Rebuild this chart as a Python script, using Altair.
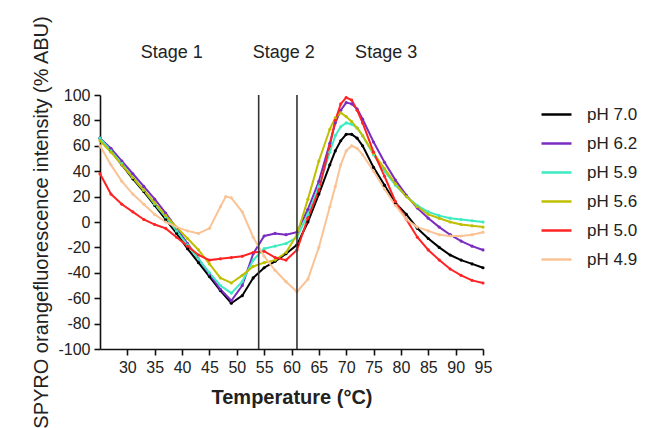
import altair as alt
import pandas as pd

# Temperature grid (°C) for the melt curves
temps = [25, 27, 29, 31, 33, 35, 37, 39, 41, 43, 45, 47, 49, 51, 53, 55, 57, 59,
         61, 63, 65, 67, 68, 69, 70, 71, 72, 73, 75, 77, 79, 81, 83, 85, 87, 89,
         91, 93, 95]
temps_49 = [25, 27, 29, 31, 33, 35, 37, 39, 41, 43, 45, 47, 48, 49, 51, 53, 55,
            57, 59, 61, 63, 65, 67, 68, 69, 70, 71, 72, 73, 75, 77, 79, 81, 83,
            85, 87, 89, 91, 93, 95]

ph_70 = [66, 56, 45, 34, 24, 13, 2, -9, -21, -32, -43, -54, -64, -58, -44, -36,
         -31, -25, -18, 0, 22, 45, 56, 64, 69, 69, 66, 60, 43, 29, 15, 6, -5,
         -13, -20, -26, -30, -33, -36]
ph_62 = [66, 58, 48, 38, 28, 18, 7, -5, -17, -29, -41, -53, -62, -50, -25, -11,
         -9, -10, -8, 10, 32, 62, 78, 88, 94, 93, 89, 81, 63, 47, 33, 21, 11, 3,
         -4, -10, -15, -19, -22]
ph_59 = [66, 56, 46, 35, 25, 14, 4, -7, -18, -29, -40, -50, -56, -47, -30, -21,
         -19, -17, -12, 6, 28, 55, 68, 75, 78, 77, 74, 68, 53, 40, 29, 20, 13, 8,
         5, 3, 2, 1, 0]
ph_56 = [64, 55, 45, 35, 25, 15, 5, -4, -13, -22, -33, -44, -48, -42, -35, -32,
         -30, -24, -10, 18, 48, 73, 82, 86, 83, 79, 74, 68, 54, 42, 30, 20, 12,
         6, 3, 0, -2, -3, -4]
ph_50 = [38, 22, 14, 8, 2, -2, -5, -12, -19, -26, -30, -29, -28, -27, -24, -23,
         -28, -30, -22, 3, 25, 60, 80, 93, 98, 96, 88, 78, 55, 36, 16, 2, -12,
         -22, -30, -37, -42, -46, -48]
ph_49 = [60, 45, 32, 22, 14, 6, 0, -4, -7, -9, -5, 12, 20, 19, 8, -12, -27, -38,
         -47, -55, -45, -20, 12, 28, 45, 56, 60, 58, 53, 40, 26, 13, 2, -4, -7,
         -10, -11, -11, -10, -8]

series_names = ["pH 7.0", "pH 6.2", "pH 5.9", "pH 5.6", "pH 5.0", "pH 4.9"]
series_colors = ["#000000", "#7a2cc0", "#3debc2", "#bfbf00", "#ff2424", "#f9c396"]

# Axis tick positions
x_ticks = [30, 35, 40, 45, 50, 55, 60, 65, 70, 75, 80, 85, 90, 95]
y_ticks = [-100, -80, -60, -40, -20, 0, 20, 40, 60, 80, 100]

# Stage boundaries and labels
boundaries = [54, 61]
stage_names = ["Stage 1", "Stage 2", "Stage 3"]
stage_x = [38.1, 58.6, 77.3]
stage_y = [133, 133, 133]

rows = []
for name, xs, ys in [
    ("pH 7.0", temps, ph_70),
    ("pH 6.2", temps, ph_62),
    ("pH 5.9", temps, ph_59),
    ("pH 5.6", temps, ph_56),
    ("pH 5.0", temps, ph_50),
    ("pH 4.9", temps_49, ph_49),
]:
    for t, v in zip(xs, ys):
        rows.append({"T": t, "F": v, "pH": name})
df = pd.DataFrame(rows)

font = "Liberation Sans"

x_scale = alt.Scale(domain=[25, 95], nice=False, zero=False)
y_scale = alt.Scale(domain=[-100, 100], nice=False)

x_axis = alt.Axis(
    values=x_ticks, tickCount=len(x_ticks),
    title="Temperature (°C)",
    titleFont=font, titleFontSize=20, titleFontWeight="bold", titleColor="#222",
    titlePadding=12,
    labelFont=font, labelFontSize=16, labelColor="#222", labelPadding=4,
    labelOverlap=False, labelExpr="'' + datum.value",
    domainColor="#111", domainWidth=1.6, tickColor="#111", tickWidth=1.6,
    tickSize=6, grid=False, labelFlush=False,
)
y_axis = alt.Axis(
    values=y_ticks, tickCount=len(y_ticks),
    title="SPYRO orangefluorescence intensity (% ABU)",
    titleFont=font, titleFontSize=20, titleFontWeight="normal", titleColor="#222",
    titlePadding=6,
    labelFont=font, labelFontSize=16, labelColor="#222", labelPadding=4,
    labelOverlap=False, labelExpr="'' + datum.value",
    domainColor="#111", domainWidth=1.6, tickColor="#111", tickWidth=1.6,
    tickSize=6, grid=False,
)

color = alt.Color(
    "pH:N",
    scale=alt.Scale(domain=series_names, range=series_colors),
    sort=series_names,
    legend=alt.Legend(
        title=None, orient="none", legendX=440, legendY=3,
        symbolType="stroke", symbolSize=900, symbolStrokeWidth=2.5,
        labelFont=font, labelFontSize=17, labelColor="#222",
        rowPadding=4, labelOffset=14,
    ),
)

curves = alt.Chart(df).mark_line(
    strokeWidth=2, point=alt.OverlayMarkDef(size=10, filled=True)
).encode(
    x=alt.X("T:Q", scale=x_scale, axis=x_axis),
    y=alt.Y("F:Q", scale=y_scale, axis=y_axis),
    color=color,
    order="T:Q",
)

rules = alt.Chart(pd.DataFrame({"T": boundaries, "top": [100, 100], "bottom": [-100, -100]})).mark_rule(
    color="#333", strokeWidth=1.6
).encode(
    x=alt.X("T:Q", scale=x_scale, axis=x_axis),
    y=alt.Y("top:Q", scale=y_scale, axis=y_axis),
    y2="bottom:Q",
)

stages = alt.Chart(
    pd.DataFrame({"label": stage_names, "T": stage_x, "F": stage_y})
).mark_text(font=font, fontSize=18, color="#222").encode(
    x=alt.X("T:Q", scale=x_scale, axis=x_axis),
    y=alt.Y("F:Q", scale=y_scale, axis=y_axis),
    text="label:N",
)

chart = (
    alt.layer(curves, rules, stages)
    .properties(
        width=383, height=254,
        autosize=alt.AutoSizeParams(type="none"),
        padding={"left": 100, "top": 95, "right": 169, "bottom": 79},
        background="white",
    )
    .configure_view(stroke=None)
)

chart.save("out.html", embed_options={"renderer": "svg", "actions": False})
